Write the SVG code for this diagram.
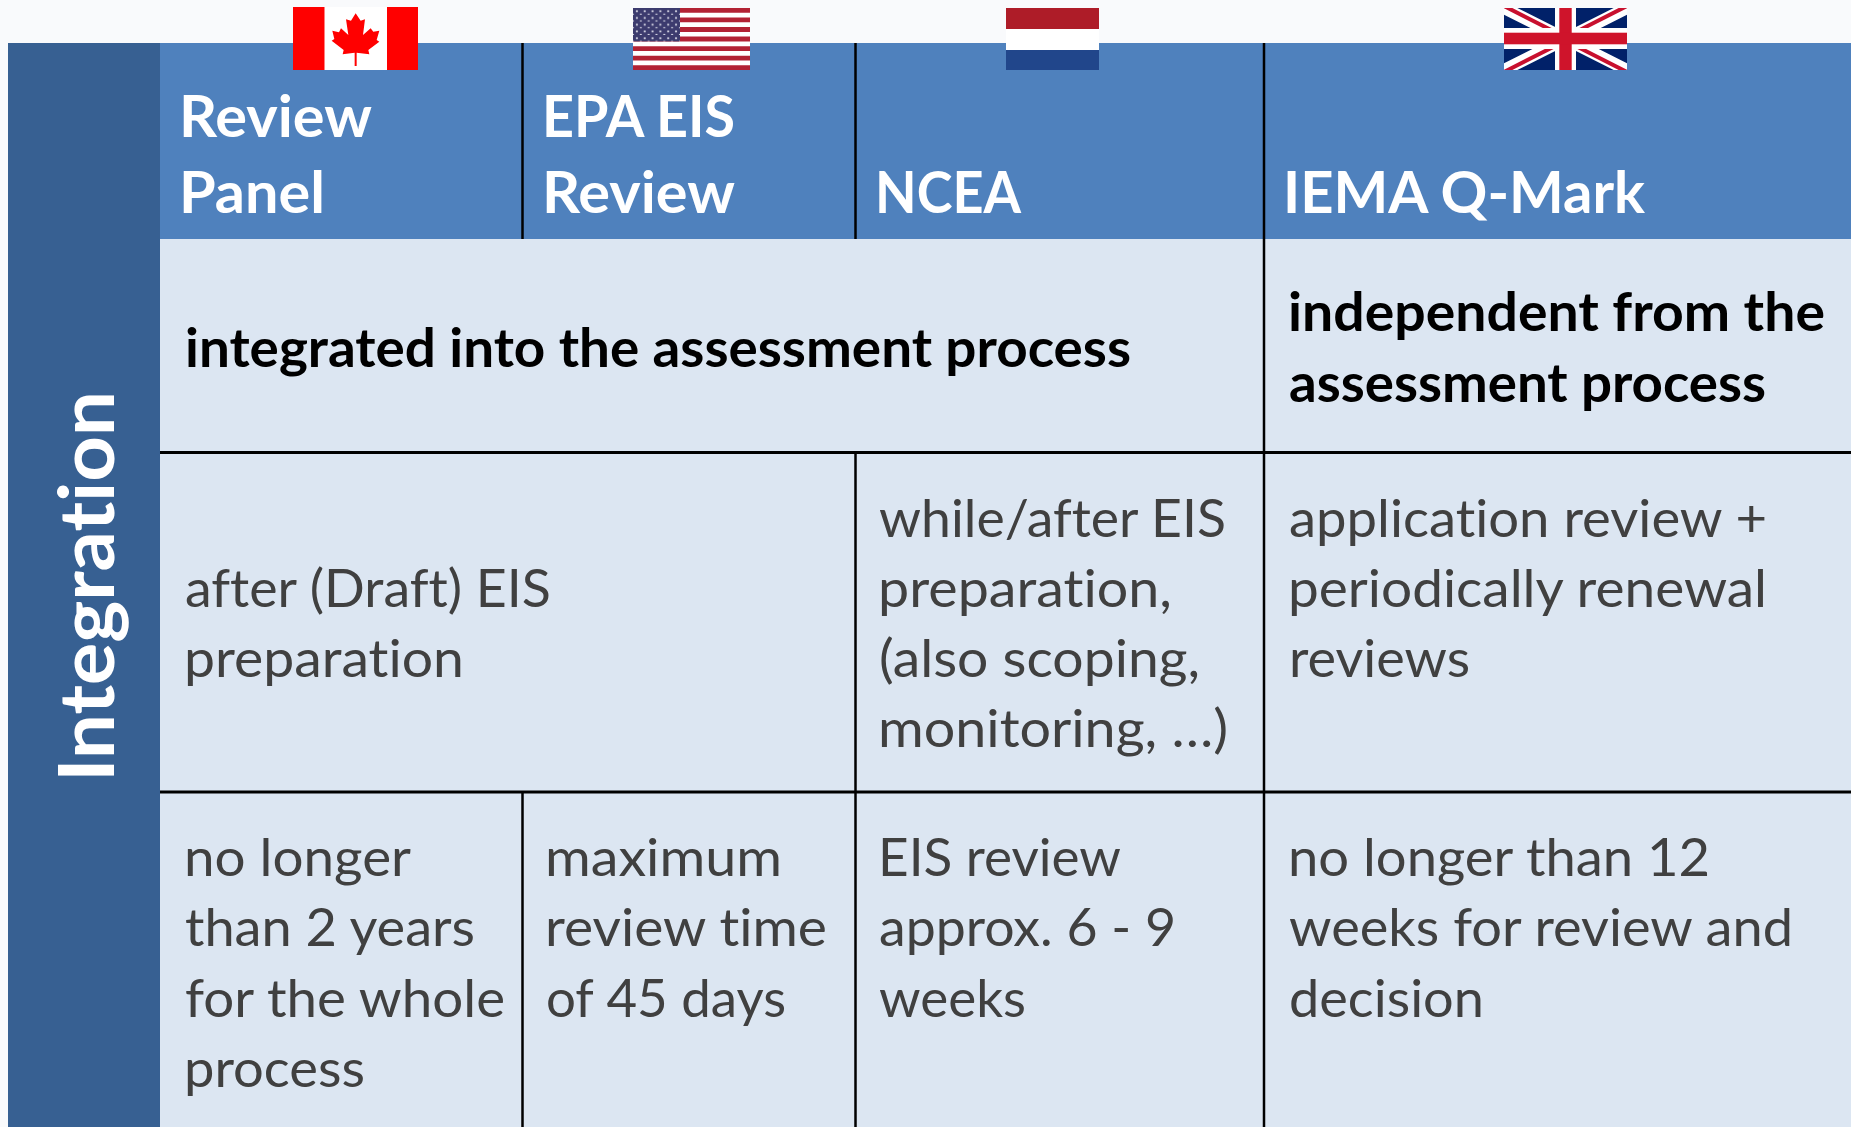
<svg xmlns="http://www.w3.org/2000/svg" width="1851" height="1127" viewBox="0 0 1851 1127">
<style>
text{font-family:Lato,"Liberation Sans",sans-serif;font-variant-ligatures:none}
.h{font-size:57px;font-weight:700;fill:#fff}
.b{font-size:53px;font-weight:700;fill:#000}
.t{font-size:53px;fill:#404040}
.g{stroke:#000;stroke-width:2.5;fill:none}
.gh{stroke:#000;stroke-width:2.8;fill:none}
</style>
<defs>
<pattern id="stars" patternUnits="userSpaceOnUse" x="633" y="8" width="7.83" height="6.75">
<rect width="7.83" height="6.75" fill="#3c3b6e"/>
<circle cx="3.9" cy="3.2" r="1.1" fill="#d8d8e6"/>
<circle cx="7.8" cy="6.6" r="1.1" fill="#d8d8e6"/>
<circle cx="0" cy="6.6" r="1.1" fill="#d8d8e6"/>
</pattern>
<clipPath id="ukc"><rect x="1504" y="8" width="123" height="62"/></clipPath>
</defs>
<rect width="1851" height="1127" fill="#f9fafc"/>
<g id="band"><rect x="8" y="43" width="152" height="1084" fill="#376092"/>
<text transform="translate(114,777) rotate(-90)" x="-5" textLength="391" lengthAdjust="spacingAndGlyphs" font-size="77" font-weight="700" fill="#fff">Integration</text></g>
<g id="header"><rect x="160" y="43" width="1691" height="196" fill="#4f81bd"/></g>
<g id="body"><rect x="160" y="239" width="1691" height="888" fill="#dce6f2"/></g>
<g id="grid-lines">
<path class="g" d="M522.5 43V239M855.5 43V239M1264 43V1127M855.5 452V1127M522.5 792V1127"/>
<path class="gh" d="M160 452.500H1851M160 792H1851"/>
</g>
<g id="flag-canada">
<rect x="293" y="7" width="125" height="63" fill="#f00"/><rect x="324.500" y="7" width="62.500" height="63" fill="#fff"/>
<polygon transform="translate(270,0) scale(.3333)" fill="#f00" points="257,40 272,62 285,58 279,105 302,85 310,95 328,92 320,120 328,125 295,150 298,163 260,158 260,198 254,198 254,158 218,163 221,150 185,122 193,117 187,92 207,97 213,85 235,105 228,58 243,62"/>
</g>
<g id="flag-usa">
<rect x="633" y="8" width="117" height="62" fill="#fff"/>
<path d="M633 10.400H750M633 19.900H750M633 29.500H750M633 39H750M633 48.600H750M633 58.100H750M633 67.600H750" stroke="#b22234" stroke-width="4.770" fill="none"/>
<rect x="633" y="8" width="47" height="33.400" fill="url(#stars)"/>
</g>
<g id="flag-netherlands">
<rect x="1006" y="8" width="93" height="21" fill="#ae1c28"/><rect x="1006" y="29" width="93" height="21" fill="#fff"/><rect x="1006" y="50" width="93" height="20" fill="#21468b"/>
</g>
<g id="flag-uk">
<rect x="1504" y="8" width="123" height="62" fill="#012169"/>
<g clip-path="url(#ukc)"><path d="M1504 8L1627 70M1627 8L1504 70" stroke="#fff" stroke-width="12"/>
<path d="M1504 6L1565 37M1627 72L1566 41M1627 6L1566 37M1504 72L1565 41" stroke="#c8102e" stroke-width="4"/></g>
<rect x="1555" y="8" width="21" height="62" fill="#fff"/><rect x="1504" y="28" width="123" height="21" fill="#fff"/>
<rect x="1559.300" y="8" width="12.400" height="62" fill="#cf142b"/><rect x="1504" y="32.700" width="123" height="11.600" fill="#cf142b"/>
</g>
<g id="head-review-panel"><text class="h" x="179" y="137" textLength="193" lengthAdjust="spacingAndGlyphs">Review</text><text class="h" x="179" y="213" textLength="146" lengthAdjust="spacingAndGlyphs">Panel</text></g>
<g id="head-epa"><text class="h" x="542" y="137" textLength="193" lengthAdjust="spacingAndGlyphs">EPA EIS</text><text class="h" x="542" y="213" textLength="193" lengthAdjust="spacingAndGlyphs">Review</text></g>
<g id="head-ncea"><text class="h" x="875" y="213" textLength="146" lengthAdjust="spacingAndGlyphs">NCEA</text></g>
<g id="head-iema"><text class="h" x="1283" y="213" textLength="362" lengthAdjust="spacingAndGlyphs">IEMA Q-Mark</text></g>
<g id="row1-integrated"><text class="b" x="185" y="366.500" textLength="946" lengthAdjust="spacingAndGlyphs">integrated into the assessment process</text></g>
<g id="row1-independent"><text class="b" x="1288" y="331" textLength="537" lengthAdjust="spacingAndGlyphs">independent from the</text><text class="b" x="1289" y="401.800" textLength="477" lengthAdjust="spacingAndGlyphs">assessment process</text></g>
<g id="row2-draft"><text class="t" x="185" y="607" textLength="366" lengthAdjust="spacingAndGlyphs">after (Draft) EIS</text><text class="t" x="184" y="677.200" textLength="280" lengthAdjust="spacingAndGlyphs">preparation</text></g>
<g id="row2-ncea"><text class="t" x="879" y="537" textLength="347" lengthAdjust="spacingAndGlyphs">while/after EIS</text><text class="t" x="878" y="607" textLength="294" lengthAdjust="spacingAndGlyphs">preparation,</text><text class="t" x="879" y="677.200" textLength="321" lengthAdjust="spacingAndGlyphs">(also scoping,</text><text class="t" x="878" y="747.300" textLength="350" lengthAdjust="spacingAndGlyphs">monitoring, …)</text></g>
<g id="row2-iema"><text class="t" x="1289" y="537" textLength="478" lengthAdjust="spacingAndGlyphs">application review +</text><text class="t" x="1288" y="607" textLength="479" lengthAdjust="spacingAndGlyphs">periodically renewal</text><text class="t" x="1289" y="677.200" textLength="181" lengthAdjust="spacingAndGlyphs">reviews</text></g>
<g id="row3-panel"><text class="t" x="184" y="876" textLength="227" lengthAdjust="spacingAndGlyphs">no longer</text><text class="t" x="185" y="946.300" textLength="290" lengthAdjust="spacingAndGlyphs">than 2 years</text><text class="t" x="185" y="1016.700" textLength="320" lengthAdjust="spacingAndGlyphs">for the whole</text><text class="t" x="184" y="1087" textLength="181" lengthAdjust="spacingAndGlyphs">process</text></g>
<g id="row3-epa"><text class="t" x="545" y="876" textLength="237" lengthAdjust="spacingAndGlyphs">maximum</text><text class="t" x="545" y="946.300" textLength="282" lengthAdjust="spacingAndGlyphs">review time</text><text class="t" x="546" y="1016.700" textLength="240" lengthAdjust="spacingAndGlyphs">of 45 days</text></g>
<g id="row3-ncea"><text class="t" x="878" y="876" textLength="243" lengthAdjust="spacingAndGlyphs">EIS review</text><text class="t" x="879" y="946.300" textLength="297" lengthAdjust="spacingAndGlyphs">approx. 6 - 9</text><text class="t" x="879" y="1016.700" textLength="147" lengthAdjust="spacingAndGlyphs">weeks</text></g>
<g id="row3-iema"><text class="t" x="1288" y="876" textLength="422" lengthAdjust="spacingAndGlyphs">no longer than 12</text><text class="t" x="1289" y="946.300" textLength="504" lengthAdjust="spacingAndGlyphs">weeks for review and</text><text class="t" x="1289" y="1016.700" textLength="195" lengthAdjust="spacingAndGlyphs">decision</text></g>
</svg>
